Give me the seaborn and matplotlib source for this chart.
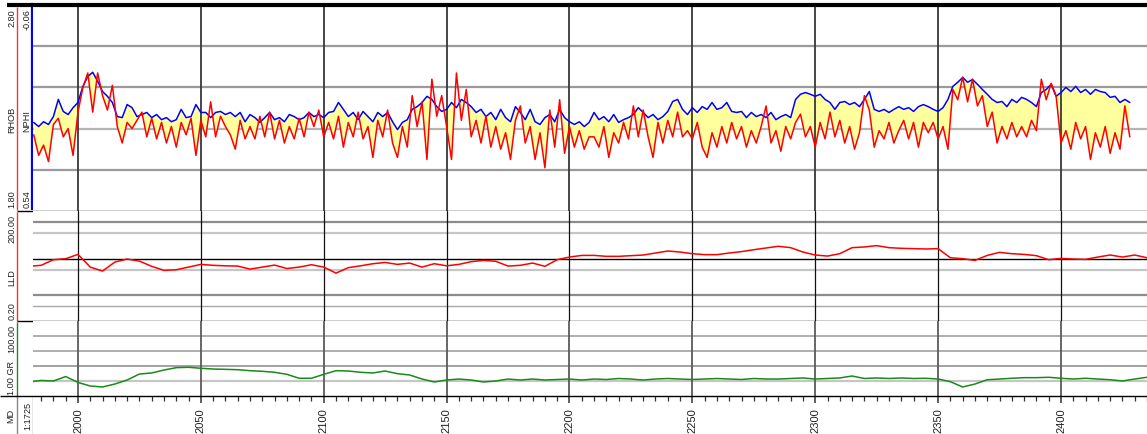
import numpy as np
import pandas as pd
import seaborn as sns
import matplotlib.pyplot as plt
from matplotlib.ticker import MultipleLocator, NullFormatter

sns.set_style("white")
plt.rcParams["font.family"] = ["Liberation Sans", "DejaVu Sans"]

# -----------------------------------
# Log data
# -----------------------------------
# density / neutron, 2 m sampling
md = np.arange(1982, 2429, 2)
rhob = [
    2.17, 2.07, 2.12, 2.04, 2.22, 2.25, 2.16, 2.20, 2.07, 2.28,
    2.40, 2.47, 2.28, 2.47, 2.36, 2.29, 2.41, 2.21, 2.13, 2.23,
    2.20, 2.24, 2.28, 2.16, 2.25, 2.15, 2.23, 2.13, 2.21, 2.11,
    2.23, 2.17, 2.25, 2.07, 2.24, 2.16, 2.33, 2.16, 2.26, 2.21,
    2.17, 2.10, 2.24, 2.15, 2.21, 2.15, 2.26, 2.16, 2.28, 2.15,
    2.24, 2.13, 2.21, 2.15, 2.25, 2.16, 2.28, 2.21, 2.29, 2.16,
    2.23, 2.15, 2.26, 2.11, 2.23, 2.16, 2.28, 2.15, 2.21, 2.06,
    2.24, 2.16, 2.29, 2.13, 2.06, 2.21, 2.11, 2.36, 2.21, 2.33,
    2.05, 2.44, 2.26, 2.36, 2.21, 2.05, 2.47, 2.24, 2.39, 2.16,
    2.24, 2.13, 2.26, 2.11, 2.21, 2.10, 2.18, 2.05, 2.24, 2.31,
    2.13, 2.21, 2.05, 2.18, 2.01, 2.29, 2.11, 2.34, 2.08, 2.21,
    2.11, 2.19, 2.10, 2.16, 2.16, 2.11, 2.21, 2.06, 2.18, 2.13,
    2.23, 2.15, 2.31, 2.16, 2.29, 2.16, 2.06, 2.23, 2.13, 2.24,
    2.16, 2.28, 2.16, 2.19, 2.15, 2.23, 2.11, 2.06, 2.18, 2.11,
    2.21, 2.13, 2.23, 2.15, 2.21, 2.11, 2.19, 2.13, 2.21, 2.31,
    2.13, 2.19, 2.09, 2.21, 2.15, 2.23, 2.27, 2.16, 2.21, 2.11,
    2.23, 2.15, 2.28, 2.16, 2.24, 2.13, 2.21, 2.10, 2.18, 2.36,
    2.29, 2.11, 2.19, 2.15, 2.23, 2.13, 2.19, 2.24, 2.15, 2.23,
    2.11, 2.23, 2.18, 2.23, 2.15, 2.21, 2.10, 2.39, 2.34, 2.45,
    2.33, 2.44, 2.31, 2.36, 2.21, 2.28, 2.13, 2.21, 2.15, 2.23,
    2.16, 2.21, 2.16, 2.24, 2.19, 2.44, 2.34, 2.42, 2.36, 2.13,
    2.19, 2.10, 2.23, 2.15, 2.21, 2.05, 2.18, 2.11, 2.21, 2.08,
    2.18, 2.10, 2.31, 2.16,
]
nphi = [
    0.282, 0.294, 0.280, 0.288, 0.265, 0.215, 0.250, 0.259, 0.239, 0.224,
    0.177, 0.148, 0.136, 0.162, 0.192, 0.206, 0.224, 0.265, 0.268, 0.230,
    0.239, 0.265, 0.259, 0.253, 0.268, 0.259, 0.274, 0.268, 0.280, 0.274,
    0.244, 0.268, 0.265, 0.230, 0.253, 0.253, 0.268, 0.253, 0.250, 0.259,
    0.253, 0.265, 0.253, 0.280, 0.259, 0.268, 0.282, 0.268, 0.253, 0.274,
    0.268, 0.280, 0.259, 0.265, 0.274, 0.268, 0.253, 0.265, 0.259, 0.268,
    0.253, 0.250, 0.224, 0.244, 0.265, 0.253, 0.274, 0.250, 0.265, 0.280,
    0.253, 0.265, 0.253, 0.280, 0.303, 0.282, 0.274, 0.244, 0.236, 0.224,
    0.206, 0.215, 0.236, 0.250, 0.244, 0.224, 0.239, 0.215, 0.224, 0.236,
    0.253, 0.244, 0.265, 0.253, 0.274, 0.244, 0.268, 0.280, 0.236, 0.253,
    0.274, 0.244, 0.280, 0.288, 0.268, 0.259, 0.280, 0.244, 0.268, 0.280,
    0.288, 0.280, 0.294, 0.282, 0.253, 0.274, 0.265, 0.280, 0.259, 0.282,
    0.274, 0.268, 0.259, 0.239, 0.253, 0.268, 0.259, 0.274, 0.265, 0.250,
    0.221, 0.215, 0.244, 0.259, 0.239, 0.253, 0.236, 0.244, 0.224, 0.244,
    0.239, 0.224, 0.250, 0.253, 0.250, 0.268, 0.253, 0.265, 0.259, 0.268,
    0.253, 0.274, 0.265, 0.259, 0.268, 0.215, 0.200, 0.195, 0.200, 0.206,
    0.200, 0.215, 0.224, 0.244, 0.224, 0.221, 0.230, 0.224, 0.236, 0.215,
    0.192, 0.244, 0.250, 0.244, 0.253, 0.244, 0.236, 0.244, 0.239, 0.250,
    0.236, 0.230, 0.236, 0.244, 0.250, 0.239, 0.215, 0.177, 0.165, 0.151,
    0.165, 0.157, 0.171, 0.186, 0.200, 0.215, 0.224, 0.221, 0.236, 0.215,
    0.224, 0.209, 0.215, 0.224, 0.236, 0.195, 0.186, 0.171, 0.206, 0.195,
    0.180, 0.192, 0.177, 0.195, 0.186, 0.200, 0.186, 0.192, 0.195, 0.209,
    0.206, 0.224, 0.215, 0.224,
]

# resistivity / gamma ray, 5 m sampling
md_5 = np.arange(1980, 2436, 5)
lld = [
    6.2, 6.6, 9.4, 10.0, 13.1, 5.9, 4.6, 8.1, 9.8, 8.6,
    6.2, 4.8, 5.0, 5.9, 7.0, 6.6, 6.4, 6.3, 5.2, 5.9,
    6.7, 5.4, 5.9, 6.85, 5.9, 4.05, 5.7, 6.4, 7.3, 7.9,
    7.0, 7.6, 5.9, 7.3, 6.4, 7.0, 8.3, 9.0, 8.5, 6.3,
    6.6, 7.6, 6.2, 9.4, 11.1, 12.3, 12.3, 11.6, 11.6, 12.1,
    12.6, 14.3, 16.2, 15.2, 13.7, 12.9, 12.9, 14.3, 15.6, 17.6,
    19.6, 21.8, 20.0, 15.2, 12.6, 11.8, 13.7, 20.0, 20.9, 22.7,
    20.0, 19.2, 18.8, 18.4, 18.8, 10.6, 10.0, 9.0, 12.3, 14.9,
    13.7, 13.1, 12.1, 9.4, 10.2, 9.8, 9.6, 11.1, 12.6, 11.1,
    12.6, 10.6,
]
gr = [
    19.5, 21.5, 20.8, 26.7, 18.9, 14.2, 12.9, 16.8, 22.1, 30.0,
    31.4, 35.3, 38.4, 38.9, 37.6, 36.6, 36.2, 35.7, 34.4, 33.6,
    32.3, 29.6, 24.4, 24.4, 29.6, 34.4, 34.0, 32.3, 31.4, 34.0,
    30.5, 28.7, 23.4, 19.5, 22.1, 23.4, 22.1, 19.5, 20.8, 23.4,
    22.1, 23.4, 22.1, 22.8, 23.4, 22.1, 23.4, 22.8, 24.1, 23.4,
    22.1, 23.4, 24.1, 23.4, 22.8, 23.4, 24.1, 23.4, 22.8, 24.1,
    23.4, 23.4, 24.1, 24.8, 23.4, 24.1, 24.8, 27.4, 24.1, 24.8,
    24.1, 24.8, 24.1, 24.4, 23.4, 19.9, 12.9, 16.8, 22.5, 23.4,
    24.4, 25.2, 25.2, 25.7, 24.4, 23.4, 24.4, 23.4, 22.5, 20.8,
    23.4, 25.7,
]

# track scales
MD_MIN, MD_MAX = 1981.7, 2435.0
RHOB_MIN, RHOB_MAX = 1.80, 2.80
NPHI_LEFT, NPHI_RIGHT = 0.54, -0.06
LLD_MIN, LLD_MAX = 0.2, 200
GR_MIN, GR_MAX = 1.0, 100.0

dens = pd.DataFrame({"MD": md, "RHOB": rhob, "NPHI": nphi})
# neutron rescaled onto the density scale (shared track)
dens["NPHI_S"] = RHOB_MIN + (dens["NPHI"] - NPHI_LEFT) / (NPHI_RIGHT - NPHI_LEFT) * (RHOB_MAX - RHOB_MIN)
res = pd.DataFrame({"MD": md_5, "LLD": lld, "GR": gr})

# -----------------------------------
# Layout (pixel boxes)
# -----------------------------------
W, H = 1147, 435
fig = plt.figure(figsize=(W / 100, H / 100), dpi=100)


def box(x0, y0, x1, y1):
    return [x0 / W, 1 - y1 / H, (x1 - x0) / W, (y1 - y0) / H]


ax1 = fig.add_axes(box(33, 6, 1147, 212))
ax2 = fig.add_axes(box(33, 212, 1147, 322))
ax3 = fig.add_axes(box(33, 322, 1147, 397))
hdr = fig.add_axes(box(0, 3, 33, 435))

# --- track 1: RHOB / NPHI
ax1.fill_between(dens["MD"], dens["RHOB"], dens["NPHI_S"], where=dens["NPHI_S"] >= dens["RHOB"],
                 interpolate=True, color="#FFFF9E", lw=0, zorder=1)
sns.lineplot(data=dens, x="MD", y="NPHI_S", color="#0000FF", lw=1.1, estimator=None, ax=ax1, zorder=3)
sns.lineplot(data=dens, x="MD", y="RHOB", color="#FF0000", lw=1.1, estimator=None, ax=ax1, zorder=4)
ax1.set_ylim(RHOB_MIN, RHOB_MAX)
for v, c in [(2.0, "#9a9a9a"), (2.2, "#b4b4b4"), (2.4, "#9a9a9a"), (2.6, "#9a9a9a")]:
    ax1.axhline(v, color=c, lw=1.6, zorder=0.5)

# --- track 2: LLD
sns.lineplot(data=res, x="MD", y="LLD", color="#FF0000", lw=1.1, estimator=None, ax=ax2, zorder=4)
ax2.set_yscale("log")
ax2.set_ylim(LLD_MIN, LLD_MAX)
for v, c, w in [(100, "#8c8c8c", 1.6), (50, "#c6c6c6", 1.6), (10, "#000000", 1.0),
                (5, "#c6c6c6", 1.6), (1, "#8c8c8c", 1.6), (0.5, "#a8a8a8", 1.0)]:
    ax2.axhline(v, color=c, lw=w, zorder=0.5)

# --- track 3: GR
sns.lineplot(data=res, x="MD", y="GR", color="#1a8a1a", lw=1.1, estimator=None, ax=ax3, zorder=4)
ax3.set_ylim(GR_MIN, GR_MAX)
for v, c, w in zip(np.linspace(GR_MIN, GR_MAX, 6)[1:5],
                   ["#c6c6c6", "#9a9a9a", "#a8a8a8", "#a8a8a8"], [1.6, 1.3, 1.3, 1.3]):
    ax3.axhline(v, color=c, lw=w, zorder=0.5)

# depth grid + axis
for ax, c, w in [(ax1, "#383838", 1.3), (ax2, "#101010", 0.9), (ax3, "#5a5a5a", 1.3)]:
    ax.set_xlim(MD_MIN, MD_MAX)
    for d in range(2000, 2401, 50):
        ax.axvline(d, color=c, lw=w, zorder=2)
    ax.set_xlabel("")
    ax.set_ylabel("")
    ax.tick_params(which="both", left=False, labelleft=False, bottom=False, labelbottom=False)
    for s in ["left", "right", "top"]:
        ax.spines[s].set_visible(False)
    ax.spines["bottom"].set_color("black")
    ax.spines["bottom"].set_linewidth(1.0)

ax1.spines["top"].set_visible(True)
ax1.spines["top"].set_color("black")
ax1.spines["top"].set_linewidth(3)

ax3.xaxis.set_major_locator(MultipleLocator(50))
ax3.xaxis.set_minor_locator(MultipleLocator(5))
ax3.xaxis.set_minor_formatter(NullFormatter())
ax3.tick_params(axis="x", which="major", bottom=True, labelbottom=True, direction="out",
                length=5, width=1.2, color="#444444", labelsize=8, labelrotation=90,
                labelcolor="#222222", pad=3)
ax3.tick_params(axis="x", which="minor", bottom=True, direction="out", length=3.5,
                width=0.9, color="#333333")

# -----------------------------------
# Header column
# -----------------------------------
hdr.set_xlim(0, 33)
hdr.set_ylim(435, 3)
hdr.axis("off")
hdr.hlines(5.5, 7, 33, color="black", lw=3)
hdr.vlines(17, 8, 211, color="#FF3030", lw=1.0)
hdr.vlines(32.3, 8, 211, color="#0000FF", lw=1.6)
hdr.vlines(17, 213, 322, color="#FF3030", lw=1.0)
hdr.vlines(17, 323, 397, color="#1a8a1a", lw=1.0)
hdr.vlines([17, 33], 397, 435, color="#888888", lw=1.0)
hdr.hlines([212, 322], 17, 33, color="black", lw=1.0)
hdr.hlines(397, 0, 33, color="black", lw=1.0)

txt = dict(rotation=90, ha="center", fontsize=6.6, color="#222222")
hdr.text(12, 9, "2.80", va="top", **txt)
hdr.text(12, 120, "RHOB", va="center", **txt)
hdr.text(12, 208, "1.80", va="bottom", **txt)
hdr.text(27, 9, "-0.06", va="top", **txt)
hdr.text(27, 121, "NPHI", va="center", **txt)
hdr.text(27, 208, "0.54", va="bottom", **txt)
hdr.text(12, 215, "200.00", va="top", **txt)
hdr.text(12, 278, "LLD", va="center", **txt)
hdr.text(12, 320, "0.20", va="bottom", **txt)
hdr.text(12, 325, "100.00", va="top", **txt)
hdr.text(12, 395, "1.00 GR", va="bottom", **txt)
hdr.text(11, 416, "MD", va="center", **txt)
hdr.text(28, 416, "1:1725", va="center", **txt)

fig.savefig("out.png", dpi=100)
